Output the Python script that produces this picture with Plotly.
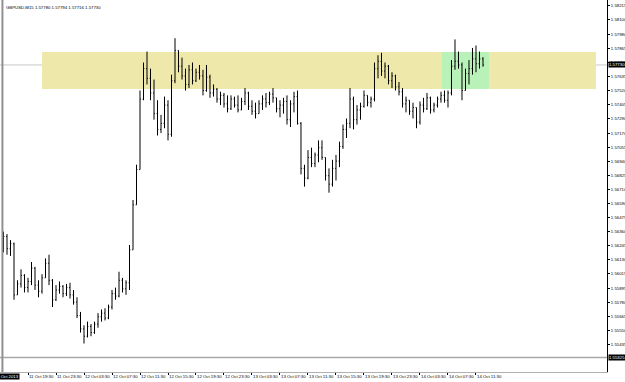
import pandas as pd
import plotly.graph_objects as go

# ---- data (GBPUSD; one bar per 30 min) ----
START = "2013-10-11 16:00"
OPEN = [1.5625, 1.5632, 1.5622, 1.5626, 1.5584, 1.5593, 1.5600, 1.5590, 1.5595, 1.5606,
        1.5592, 1.5587, 1.5598, 1.5610, 1.5596, 1.5580, 1.5588, 1.5591, 1.5585, 1.5590,
        1.5584, 1.5578, 1.5567, 1.5556, 1.5550, 1.5558, 1.5553, 1.5560, 1.5566, 1.5569,
        1.5565, 1.5574, 1.5585, 1.5583, 1.5596, 1.5589, 1.5594, 1.5621, 1.5658, 1.5687,
        1.5745, 1.5770, 1.5762, 1.5750, 1.5733, 1.5720, 1.5725, 1.5740, 1.5716, 1.5760,
        1.5785, 1.5772, 1.5764, 1.5757, 1.5769, 1.5760, 1.5767, 1.5764, 1.5752, 1.5763,
        1.5750, 1.5753, 1.5745, 1.5748, 1.5741, 1.5737, 1.5745, 1.5740, 1.5736, 1.5743,
        1.5750, 1.5739, 1.5735, 1.5733, 1.5741, 1.5745, 1.5742, 1.5749, 1.5746, 1.5737,
        1.5740, 1.5743, 1.5728, 1.5741, 1.5747, 1.5725, 1.5688, 1.5680, 1.5697, 1.5692,
        1.5699, 1.5705, 1.5697, 1.5682, 1.5675, 1.5688, 1.5694, 1.5706, 1.5720, 1.5725,
        1.5745, 1.5728, 1.5736, 1.5739, 1.5748, 1.5742, 1.5745, 1.5770, 1.5776, 1.5768,
        1.5772, 1.5760, 1.5764, 1.5755, 1.5751, 1.5741, 1.5744, 1.5735, 1.5738, 1.5726,
        1.5740, 1.5737, 1.5746, 1.5736, 1.5740, 1.5745, 1.5748, 1.5744, 1.5750, 1.5772,
        1.5776, 1.5773, 1.5752, 1.5766, 1.5770, 1.5778, 1.5774, 1.57780]
HIGH = [1.5636, 1.5634, 1.5629, 1.5627, 1.5596, 1.5605, 1.5601, 1.5598, 1.5611, 1.5607,
        1.5596, 1.5601, 1.5614, 1.5617, 1.5597, 1.5592, 1.5595, 1.5592, 1.5593, 1.5594,
        1.5588, 1.5582, 1.5570, 1.5559, 1.5562, 1.5560, 1.5562, 1.5569, 1.5572, 1.5573,
        1.5576, 1.5588, 1.5590, 1.5603, 1.5598, 1.5596, 1.5625, 1.5662, 1.5691, 1.5752,
        1.5775, 1.5784, 1.5770, 1.5761, 1.5744, 1.5732, 1.5747, 1.5744, 1.5765, 1.5795,
        1.5785, 1.5779, 1.5770, 1.5773, 1.5775, 1.5770, 1.5773, 1.5769, 1.5773, 1.5765,
        1.5757, 1.5754, 1.5751, 1.5750, 1.5748, 1.5748, 1.5747, 1.5748, 1.5746, 1.5754,
        1.5751, 1.5744, 1.5742, 1.5744, 1.5748, 1.5750, 1.5751, 1.5754, 1.5746, 1.5744,
        1.5746, 1.5748, 1.5744, 1.5751, 1.5752, 1.5726, 1.5691, 1.5703, 1.5705, 1.5701,
        1.5711, 1.5711, 1.5697, 1.5688, 1.5695, 1.5699, 1.5710, 1.5724, 1.5729, 1.5754,
        1.5747, 1.5740, 1.5742, 1.5752, 1.5748, 1.5747, 1.5775, 1.5781, 1.5783, 1.5775,
        1.5773, 1.5767, 1.5765, 1.5759, 1.5754, 1.5747, 1.5744, 1.5742, 1.5738, 1.5743,
        1.5746, 1.5750, 1.5747, 1.5742, 1.5747, 1.5751, 1.5752, 1.5752, 1.5777, 1.5794,
        1.5784, 1.5775, 1.5770, 1.5777, 1.5787, 1.5789, 1.5784, 1.57794]
LOW = [1.5619, 1.5617, 1.5616, 1.5580, 1.5584, 1.5590, 1.5586, 1.5586, 1.5592, 1.5588,
       1.5582, 1.5585, 1.5598, 1.5592, 1.5574, 1.5579, 1.5585, 1.5582, 1.5583, 1.5581,
       1.5576, 1.5565, 1.5553, 1.5544, 1.5549, 1.5550, 1.5552, 1.5557, 1.5562, 1.5563,
       1.5564, 1.5572, 1.5580, 1.5582, 1.5586, 1.5584, 1.5588, 1.5621, 1.5658, 1.5687,
       1.5744, 1.5757, 1.5744, 1.5728, 1.5715, 1.5717, 1.5721, 1.5711, 1.5714, 1.5758,
       1.5767, 1.5761, 1.5752, 1.5754, 1.5757, 1.5759, 1.5761, 1.5748, 1.5751, 1.5746,
       1.5747, 1.5742, 1.5740, 1.5738, 1.5734, 1.5736, 1.5738, 1.5734, 1.5736, 1.5740,
       1.5736, 1.5732, 1.5729, 1.5733, 1.5736, 1.5738, 1.5740, 1.5742, 1.5734, 1.5730,
       1.5733, 1.5724, 1.5722, 1.5734, 1.5724, 1.5683, 1.5673, 1.5679, 1.5689, 1.5689,
       1.5693, 1.5695, 1.5678, 1.5668, 1.5673, 1.5678, 1.5689, 1.5704, 1.5713, 1.5721,
       1.5720, 1.5724, 1.5728, 1.5738, 1.5739, 1.5738, 1.5743, 1.5762, 1.5764, 1.5762,
       1.5757, 1.5754, 1.5752, 1.5748, 1.5738, 1.5734, 1.5732, 1.5729, 1.5721, 1.5724,
       1.5734, 1.5736, 1.5733, 1.5734, 1.5738, 1.5742, 1.5742, 1.5738, 1.5748, 1.5769,
       1.5770, 1.5744, 1.5752, 1.5757, 1.5765, 1.5767, 1.5770, 1.57716]
CLOSE = [1.5632, 1.5622, 1.5626, 1.5584, 1.5593, 1.5600, 1.5590, 1.5595, 1.5606, 1.5592,
         1.5587, 1.5598, 1.5610, 1.5596, 1.5580, 1.5588, 1.5591, 1.5585, 1.5590, 1.5584,
         1.5578, 1.5567, 1.5556, 1.5550, 1.5558, 1.5553, 1.5560, 1.5566, 1.5569, 1.5565,
         1.5574, 1.5585, 1.5583, 1.5596, 1.5589, 1.5594, 1.5621, 1.5658, 1.5687, 1.5745,
         1.5770, 1.5762, 1.5750, 1.5733, 1.5720, 1.5725, 1.5740, 1.5716, 1.5760, 1.5785,
         1.5772, 1.5764, 1.5757, 1.5769, 1.5760, 1.5767, 1.5764, 1.5752, 1.5763, 1.5750,
         1.5753, 1.5745, 1.5748, 1.5741, 1.5737, 1.5745, 1.5740, 1.5736, 1.5743, 1.5750,
         1.5739, 1.5735, 1.5733, 1.5741, 1.5745, 1.5742, 1.5749, 1.5746, 1.5737, 1.5740,
         1.5743, 1.5728, 1.5741, 1.5747, 1.5725, 1.5688, 1.5680, 1.5697, 1.5692, 1.5699,
         1.5705, 1.5697, 1.5682, 1.5675, 1.5688, 1.5694, 1.5706, 1.5720, 1.5725, 1.5745,
         1.5728, 1.5736, 1.5739, 1.5748, 1.5742, 1.5745, 1.5770, 1.5776, 1.5768, 1.5772,
         1.5760, 1.5764, 1.5755, 1.5751, 1.5741, 1.5744, 1.5735, 1.5738, 1.5726, 1.5740,
         1.5737, 1.5746, 1.5736, 1.5740, 1.5745, 1.5748, 1.5744, 1.5750, 1.5772, 1.5776,
         1.5773, 1.5752, 1.5766, 1.5770, 1.5778, 1.5774, 1.5778, 1.57730]

# price-axis labels (as printed by the terminal)
PRICE_TICKS = [1.58215, 1.58100, 1.57980, 1.57865, 1.57750, 1.57635, 1.57520, 1.57405,
               1.57290, 1.57170, 1.57055, 1.56940, 1.56825, 1.56710, 1.56590, 1.56475,
               1.56360, 1.56245, 1.56130, 1.56015, 1.55895, 1.55780, 1.55665, 1.55550,
               1.55435, 1.55205]
# time-axis labels
TIME_TICKS = ["2013-10-11 19:30", "2013-10-11 23:30", "2013-10-12 03:30", "2013-10-12 07:30",
              "2013-10-12 11:30", "2013-10-12 15:30", "2013-10-12 19:30", "2013-10-12 23:30",
              "2013-10-13 03:30", "2013-10-13 07:30", "2013-10-13 11:30", "2013-10-13 15:30",
              "2013-10-13 19:30", "2013-10-13 23:30", "2013-10-14 03:30", "2013-10-14 07:30",
              "2013-10-14 11:30"]
TIME_LABELS = ["11 Oct 19:30", "11 Oct 23:30", "12 Oct 03:30", "12 Oct 07:30",
               "12 Oct 11:30", "12 Oct 15:30", "12 Oct 19:30", "12 Oct 23:30",
               "13 Oct 03:30", "13 Oct 07:30", "13 Oct 11:30", "13 Oct 15:30",
               "13 Oct 19:30", "13 Oct 23:30", "14 Oct 03:30", "14 Oct 07:30",
               "14 Oct 11:30"]

BID = 1.57730
HLINE = 1.55325
ZONE_TOP, ZONE_BOTTOM = 1.57837, 1.57532
ZONE_START, ZONE_END = "2013-10-11 21:30", "2013-10-15 04:38"
GREEN_START, GREEN_END = "2013-10-14 06:38", "2013-10-14 13:21"
TITLE = "GBPUSD,M15 1.57780 1.57794 1.57716 1.57730"

X_RANGE = ["2013-10-11 15:30", "2013-10-15 06:13"]
Y_RANGE = [1.55206, 1.58264]

times = pd.date_range(START, periods=len(OPEN), freq="30min")

fig = go.Figure()
fig.add_trace(go.Ohlc(
    x=times, open=OPEN, high=HIGH, low=LOW, close=CLOSE,
    increasing=dict(line=dict(color="black", width=1)),
    decreasing=dict(line=dict(color="black", width=1)),
    tickwidth=0.25, hoverinfo="skip", showlegend=False))

FS = 4.3
FONT = "Liberation Sans, Arial, sans-serif"

# zones
fig.add_shape(type="rect", xref="x", yref="y", x0=ZONE_START, x1=ZONE_END,
              y0=ZONE_BOTTOM, y1=ZONE_TOP, fillcolor="#eee8aa", line_width=0, layer="below")
fig.add_shape(type="rect", xref="x", yref="y", x0=GREEN_START, x1=GREEN_END,
              y0=ZONE_BOTTOM, y1=ZONE_TOP, fillcolor="#b9f2b9", line_width=0, layer="below")
# horizontal lines
fig.add_shape(type="line", xref="paper", yref="y", x0=0, x1=1, y0=BID, y1=BID,
              line=dict(color="#c8c8c8", width=1), layer="below")
fig.add_shape(type="line", xref="paper", yref="y", x0=0, x1=1, y0=HLINE, y1=HLINE,
              line=dict(color="#a8a8a8", width=1.5), layer="below")
# left vertical line
fig.add_shape(type="line", xref="paper", yref="paper", x0=0.004, x1=0.004, y0=0, y1=1,
              line=dict(color="#909090", width=2))

# highlighted axis labels
for val in (BID, HLINE):
    fig.add_annotation(xref="paper", yref="y", x=1, y=val, xanchor="left", xshift=1,
                       text=f"{val:.5f}", showarrow=False, bgcolor="black",
                       font=dict(color="white", size=FS, family=FONT), borderpad=0)
fig.add_annotation(xref="paper", yref="paper", x=20 / 607, y=0, xanchor="right",
                   yanchor="top", yshift=-1, text="11 Oct 2013", showarrow=False,
                   bgcolor="black", font=dict(color="white", size=FS, family=FONT),
                   borderpad=0)
fig.add_annotation(xref="paper", yref="paper", x=0.006, y=1, xanchor="left",
                   yanchor="top", yshift=-3, text=TITLE, showarrow=False,
                   font=dict(color="black", size=FS, family=FONT))

fig.update_layout(
    width=625, height=382,
    margin=dict(l=0, r=18, t=0, b=10),
    paper_bgcolor="white", plot_bgcolor="white",
    font=dict(family=FONT, size=FS, color="black"),
    xaxis=dict(range=X_RANGE, rangeslider=dict(visible=False), showgrid=False,
               tickvals=TIME_TICKS, ticktext=TIME_LABELS, ticks="outside", ticklen=2,
               tickcolor="black", ticklabelposition="outside right", tickangle=0,
               automargin=False,
               showline=True, linecolor="#b0b0b0", linewidth=1, mirror=True,
               zeroline=False, tickfont=dict(size=FS)),
    yaxis=dict(range=Y_RANGE, side="right", showgrid=False, automargin=False,
               tickvals=PRICE_TICKS, ticktext=[f"{v:.5f}" for v in PRICE_TICKS],
               ticks="outside", ticklen=2, tickcolor="black",
               showline=True, linecolor="black", linewidth=1, mirror=True,
               zeroline=False, tickfont=dict(size=FS)),
)

fig.write_html("out.html")
